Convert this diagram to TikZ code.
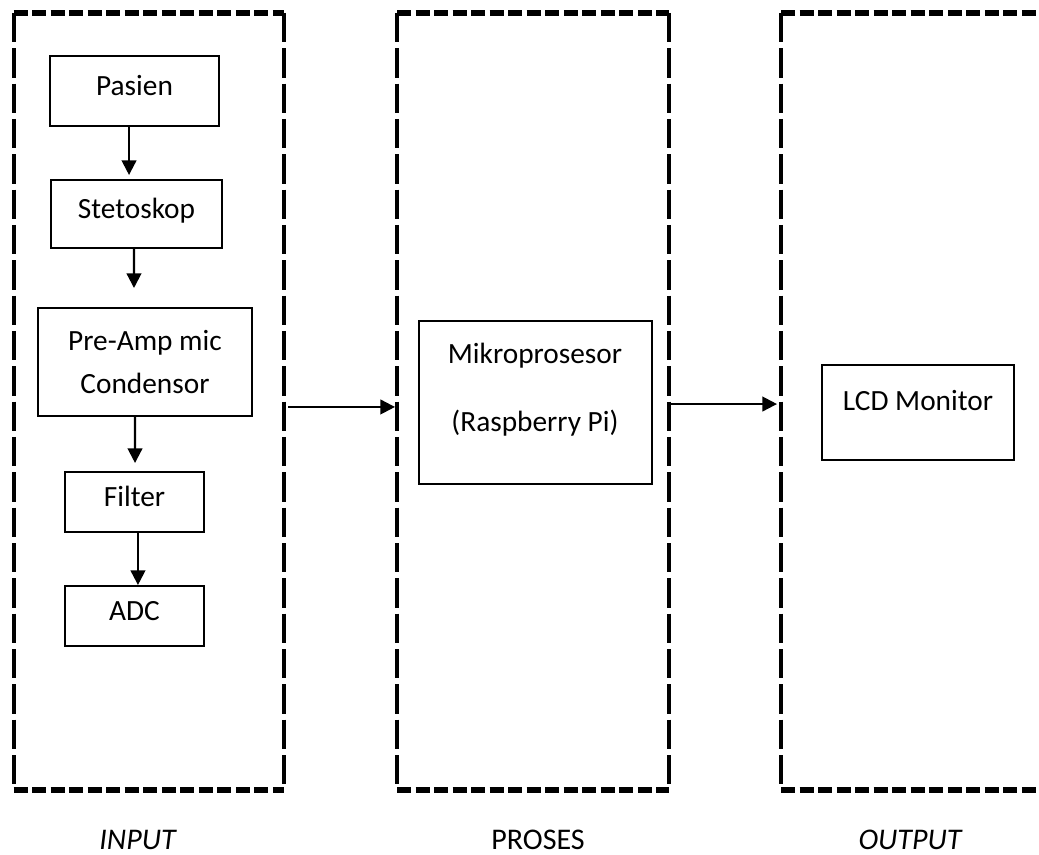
\documentclass[tikz,border=0pt]{standalone}
\usepackage{fontspec}
\setmainfont{Carlito}
\usetikzlibrary{arrows.meta}
\newdimen\pxu \pxu=0.75pt
\begin{document}
\begin{tikzpicture}[x=0.75pt,y=-0.75pt,
  every node/.style={font=\fontsize{22}{32.25}\selectfont},
  box/.style={draw, line width=1.8pt, inner sep=0pt, outer sep=0pt, align=center},
  onel/.style={text height=0.644em, text depth=0pt},
  frame/.style={inner sep=0pt, outer sep=0pt},
  hdash/.style={line width=4.5pt, dash pattern=on 10.5pt off 3.4pt},
  vdash/.style={line width=3pt, dash pattern=on 22pt off 4.5pt},
  arr/.style={line width=1.6pt, -{Triangle[length=11pt,width=11pt]}},
  lbl/.style={anchor=base, inner sep=0pt},
  lab/.style={anchor=base, inner sep=0pt, font=\fontsize{22.5}{26}\selectfont},
  itl/.style={font=\fontsize{22.5}{26}\selectfont\itshape}]
\useasboundingbox (0,0) rectangle (1039,855);
\clip (0,0) rectangle (1039,855);
% frames
\node[frame, minimum width=270.5\pxu, minimum height=777\pxu] (inp) at (148.75,401.5) {};
\node[frame, minimum width=272\pxu, minimum height=777\pxu] (pro) at (533,401.5) {};
\node[frame, minimum width=260\pxu, minimum height=777\pxu] (out) at (911,401.5) {};
\foreach \f in {inp,pro,out} {
  \draw[hdash] (\f.north west) -- (\f.north east);
  \draw[hdash] (\f.south west) -- (\f.south east);
  \draw[vdash] (\f.north west) -- (\f.south west);
  \draw[vdash] (\f.north east) -- (\f.south east);
}
% input chain
\node[box,onel,minimum width=169\pxu,minimum height=70\pxu] (pas) at (134.5,91) {Pasien};
\node[box,onel,minimum width=171\pxu,minimum height=68\pxu] (stt) at (136.5,214) {Stetoskop};
\node[box,minimum width=214\pxu,minimum height=108\pxu] (pre) at (145,362) {Pre-Amp mic\\Condensor};
\node[box,onel,minimum width=139\pxu,minimum height=60\pxu] (fil) at (134.5,502) {Filter};
\node[box,onel,minimum width=139\pxu,minimum height=60\pxu] (adc) at (134.5,616) {ADC};
% process
\node[box,minimum width=233\pxu,minimum height=163\pxu] (mp) at (535.5,402.5) {};
\node[lbl] (mpa) at (535,364) {Mikroprosesor};
\node[lbl] (mpb) at (535,432) {(Raspberry Pi)};
% output
\node[box,text height=0.644em,text depth=0.96em,minimum width=192\pxu,minimum height=95\pxu] (lcd) at (918,412.5) {LCD Monitor};
% arrows
\draw[arr, shorten >=3.75pt] ([xshift=-4.1pt]pas.south) -- ([xshift=-5.6pt]stt.north);
\draw[arr, shorten >=15pt] ([xshift=-1.9pt]stt.south) -- ([xshift=-8.25pt]pre.north);
\draw[arr, shorten >=6.75pt] ([xshift=-7.5pt]pre.south) -- ([xshift=0.4pt]fil.north);
\draw[arr, shorten >=0.75pt] ([xshift=2.6pt]fil.south) -- ([xshift=2.6pt]adc.north);
\draw[arr, shorten <=3pt, shorten >=1.5pt] ([yshift=-4.1pt]inp.east) -- ([yshift=-4.1pt]pro.west);
\draw[arr, shorten <=0.75pt, shorten >=3pt] ([yshift=-1.9pt]pro.east) -- ([yshift=-1.9pt]out.west);
% labels
\node[lab,itl] (tin) at (137.5,849) {INPUT};
\node[lab] (tpr) at (538,849) {PROSES};
\node[lab,itl] (tout) at (910,849) {OUTPUT};
\end{tikzpicture}
\end{document}
